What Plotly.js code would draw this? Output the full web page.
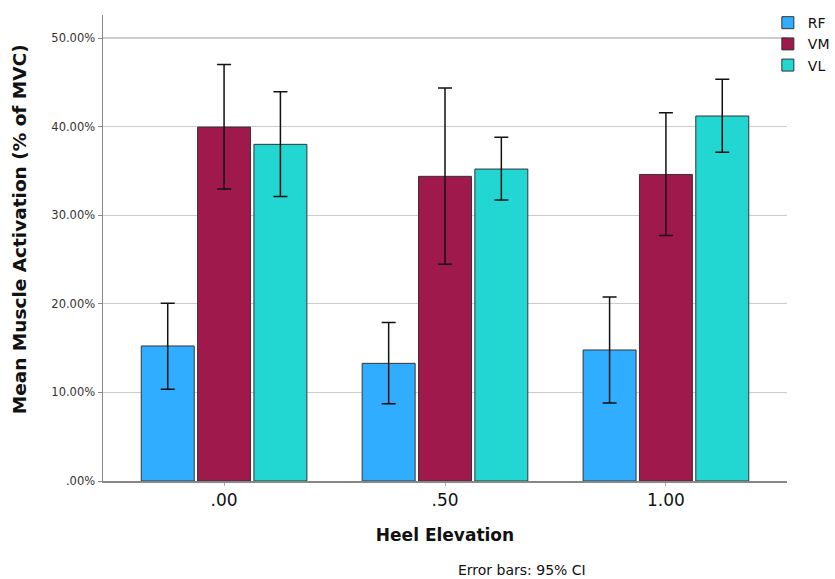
<!DOCTYPE html>
<html>
<head>
<meta charset="utf-8">
<script src="https://cdn.plot.ly/plotly-3.0.1.min.js"></script>
<style>html,body{margin:0;padding:0;background:#fff;}#chart{width:835px;height:579px;}</style>
</head>
<body>
<div id="chart"></div>
<script>
const categories = [".00", ".50", "1.00"];
const seriesNames = ["RF", "VM", "VL"];
const seriesColors = ["#31adff", "#a0194c", "#22d6d2"];
// means (fraction of MVC)
const rfMean = [0.1524, 0.1328, 0.1479];
const vmMean = [0.3995, 0.3439, 0.3460];
const vlMean = [0.3800, 0.3521, 0.4120];
// 95% CI upper and lower bounds
const rfUpper = [0.2005, 0.1790, 0.2077];
const rfLower = [0.1035, 0.0873, 0.0880];
const vmUpper = [0.4700, 0.4436, 0.4157];
const vmLower = [0.3296, 0.2446, 0.2770];
const vlUpper = [0.4394, 0.3879, 0.4534];
const vlLower = [0.3210, 0.3172, 0.3710];
const yTickVals = [0, 0.1, 0.2, 0.3, 0.4, 0.5];
const yTickText = [".00%", "10.00%", "20.00%", "30.00%", "40.00%", "50.00%"];

const means = [rfMean, vmMean, vlMean];
const uppers = [rfUpper, vmUpper, vlUpper];
const lowers = [rfLower, vmLower, vlLower];

const traces = seriesNames.map((name, i) => ({
  type: 'bar',
  name: name,
  x: categories,
  y: means[i],
  marker: {color: seriesColors[i], line: {color: '#333333', width: 1}},
  error_y: {
    type: 'data', symmetric: false,
    array: uppers[i].map((u, k) => u - means[i][k]),
    arrayminus: means[i].map((m, k) => m - lowers[i][k]),
    color: '#111111', thickness: 1.5, width: 7
  }
}));

const font = "DejaVu Sans, Verdana, sans-serif";
const layout = {
  width: 835, height: 579,
  margin: {l: 103, r: 48, t: 15, b: 98, autoexpand: false},
  paper_bgcolor: '#ffffff', plot_bgcolor: '#ffffff',
  barmode: 'group', bargap: 0.235, bargroupgap: 0.06,
  font: {family: font, color: '#222'},
  xaxis: {
    type: 'category', range: [-0.548, 2.548],
    showline: true, linecolor: '#888', linewidth: 1.5,
    ticks: 'outside', ticklen: 3, tickcolor: '#aaa',
    tickfont: {size: 17, color: '#111'},
    title: {text: '<b>Heel Elevation</b>', font: {size: 17, color: '#111'}, standoff: 20},
    showgrid: false, zeroline: false, automargin: false
  },
  yaxis: {
    range: [0, 0.526],
    tickvals: yTickVals, ticktext: yTickText,
    tickfont: {size: 11.5, color: '#333'},
    ticks: 'outside', ticklen: 4, tickcolor: '#888',
    showline: true, linecolor: '#888', linewidth: 1.5,
    showgrid: true, gridcolor: '#cccccc', gridwidth: 1.2,
    zeroline: false, automargin: false
  },
  legend: {
    x: 0.972, xanchor: 'left', y: 1.017, yanchor: 'top',
    font: {size: 14, color: '#111'},
    bgcolor: 'rgba(0,0,0,0)', itemwidth: 30, tracegroupgap: 0
  },
  annotations: [
    {
      text: 'Error bars: 95% CI', xref: 'paper', yref: 'paper',
      x: 0.6126, y: -0.191, xanchor: 'center', yanchor: 'middle',
      showarrow: false, font: {size: 14, color: '#111'}
    },
    {
      text: '<b>Mean Muscle Activation (% of MVC)</b>', xref: 'paper', yref: 'paper',
      x: -0.123, y: 0.54, xanchor: 'center', yanchor: 'middle', textangle: -90,
      showarrow: false, font: {size: 18.5, color: '#111'}
    }
  ]
};

Plotly.newPlot('chart', traces, layout, {displayModeBar: false, staticPlot: true});
</script>
</body>
</html>
